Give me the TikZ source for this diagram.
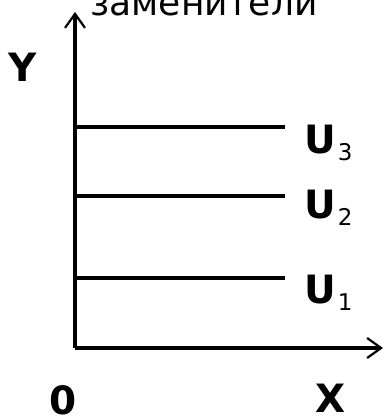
\documentclass[tikz,border=0pt]{standalone}
\usepackage{fontspec}
\setmainfont{DejaVu Sans}
\usetikzlibrary{arrows.meta}
\begin{document}
\begin{tikzpicture}[x=1pt,y=-1pt,
  axis/.style={line width=3.4pt,-{Straight Barb[length=14pt,width=20pt,line width=2.2pt]}},
  level/.style={line width=3.4pt},
  lbl/.style={font=\fontsize{39}{39}\selectfont\bfseries,inner sep=0pt},
  ttl/.style={font=\fontsize{36}{36}\selectfont,inner sep=0pt}]
\useasboundingbox (0,0) rectangle (385,420);
\coordinate (o) at (75,348);
\coordinate (ytop) at (75,12);
\coordinate (xend) at (383,348);
\draw[axis] (o) -- (ytop);
\draw[axis] (o) -- (xend);
\coordinate (a1) at (75,278); \coordinate (b1) at (285,278);
\coordinate (a2) at (75,196); \coordinate (b2) at (285,196);
\coordinate (a3) at (75,127); \coordinate (b3) at (285,127);
\draw[level] (a1) -- (b1);
\draw[level] (a2) -- (b2);
\draw[level] (a3) -- (b3);
\node[ttl,anchor=base] (t) at (204,16) {заменители};
\node[lbl] (y) at (23,67) {Y};
\node[lbl] (x) at (331,398) {X};
\node[lbl] (zero) at (63,400) {0};
\newcommand{\subdig}[1]{\hspace{2pt}\raisebox{-7pt}{\fontsize{23}{23}\selectfont\mdseries #1}}
\node[lbl,anchor=base west] (u3) at (304,153) {U\subdig{3}};
\node[lbl,anchor=base west] (u2) at (304,218) {U\subdig{2}};
\node[lbl,anchor=base west] (u1) at (304,303) {U\subdig{1}};
\end{tikzpicture}
\end{document}
